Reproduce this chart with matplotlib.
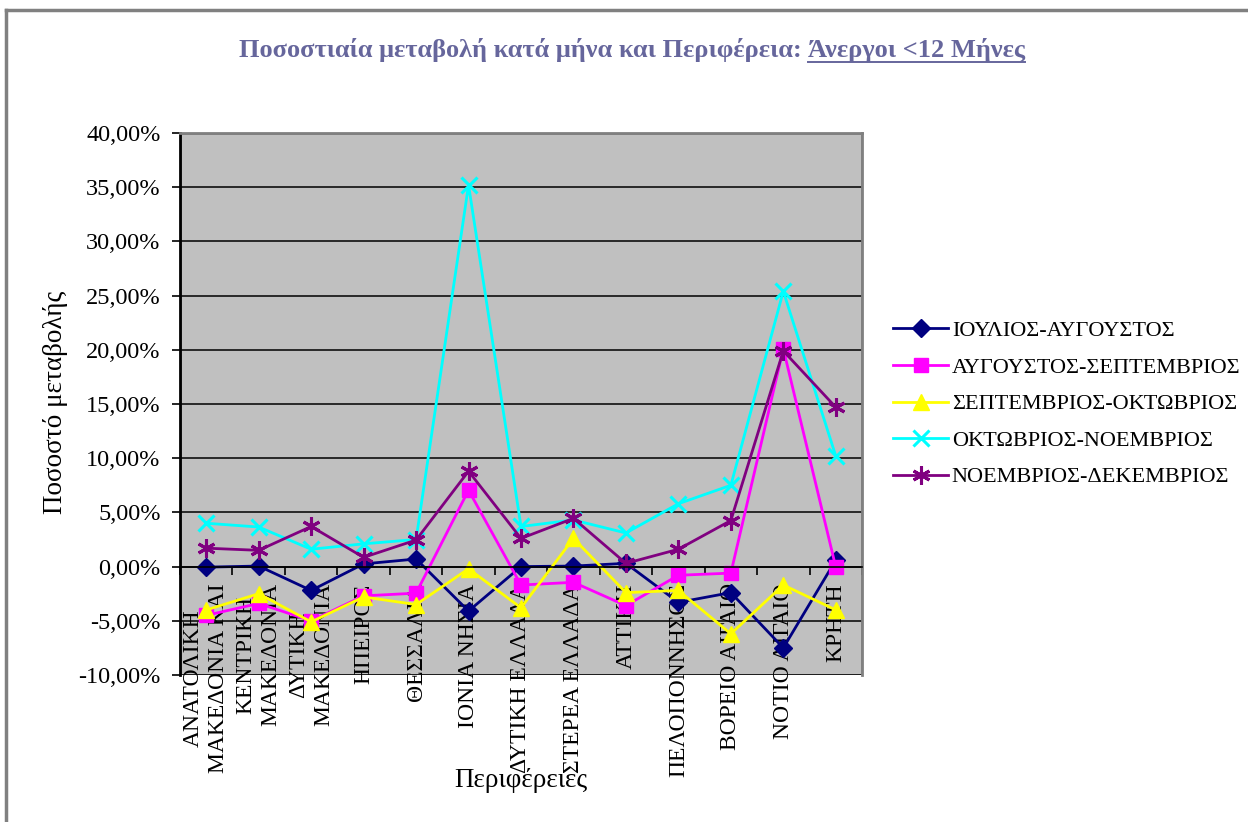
import matplotlib
matplotlib.use("Agg")
import matplotlib.pyplot as plt
from matplotlib.lines import Line2D
from matplotlib.patches import Rectangle
from matplotlib.ticker import FuncFormatter, MultipleLocator, FixedLocator

plt.rcParams['font.family'] = ['Liberation Serif', 'DejaVu Serif']

# regions (x categories)
regions = [
    "ΑΝΑΤΟΛΙΚΗ\nΜΑΚΕΔΟΝΙΑ ΚΑΙ",
    "ΚΕΝΤΡΙΚΗ\nΜΑΚΕΔΟΝΙΑ",
    "ΔΥΤΙΚΗ\nΜΑΚΕΔΟΝΙΑ",
    "ΗΠΕΙΡΟΣ",
    "ΘΕΣΣΑΛΙΑ",
    "ΙΟΝΙΑ ΝΗΣΙΑ",
    "ΔΥΤΙΚΗ ΕΛΛΑΔΑ",
    "ΣΤΕΡΕΑ ΕΛΛΑΔΑ",
    "ΑΤΤΙΚΗ",
    "ΠΕΛΟΠΟΝΝΗΣΟΣ",
    "ΒΟΡΕΙΟ ΑΙΓΑΙΟ",
    "ΝΟΤΙΟ ΑΙΓΑΙΟ",
    "ΚΡΗΤΗ",
]

# percent change per period
jul_aug = [-0.05, 0.05, -2.2, 0.25, 0.7, -4.1, 0.0, 0.05, 0.3, -3.3, -2.4, -7.5, 0.6]
aug_sep = [-4.5, -3.4, -5.0, -2.7, -2.45, 7.05, -1.7, -1.45, -3.6, -0.8, -0.6, 20.1, -0.05]
sep_oct = [-4.0, -2.5, -5.1, -2.8, -3.5, -0.2, -3.8, 2.6, -2.4, -2.2, -6.2, -1.7, -4.0]
oct_nov = [4.0, 3.65, 1.6, 2.1, 2.5, 35.2, 3.7, 4.3, 3.1, 5.8, 7.5, 25.4, 10.2]
nov_dec = [1.7, 1.5, 3.7, 0.85, 2.45, 8.8, 2.6, 4.45, 0.3, 1.6, 4.25, 19.9, 14.7]

series_names = [
    "ΙΟΥΛΙΟΣ-ΑΥΓΟΥΣΤΟΣ",
    "ΑΥΓΟΥΣΤΟΣ-ΣΕΠΤΕΜΒΡΙΟΣ",
    "ΣΕΠΤΕΜΒΡΙΟΣ-ΟΚΤΩΒΡΙΟΣ",
    "ΟΚΤΩΒΡΙΟΣ-ΝΟΕΜΒΡΙΟΣ",
    "ΝΟΕΜΒΡΙΟΣ-ΔΕΚΕΜΒΡΙΟΣ",
]
series_values = [jul_aug, aug_sep, sep_oct, oct_nov, nov_dec]
colors = ["#000080", "#FF00FF", "#FFFF00", "#00FFFF", "#800080"]
markers = ["D", "s", "^", "x", (6, 2, 0)]
msizes = [9, 10, 11, 11, 13]

fig = plt.figure(figsize=(12.48, 8.22), dpi=100)
ax = fig.add_axes([180 / 1248, 1 - 675 / 822, (862 - 180) / 1248, (675 - 133) / 822])
ax.set_facecolor("#C0C0C0")

x = list(range(len(regions)))
for vals, name, c, m, ms in zip(series_values, series_names, colors, markers, msizes):
    ax.plot(x, vals, color=c, lw=2.0, marker=m, ms=ms, mfc=c, mec=c,
            mew=2.2 if m in ("x", (6, 2, 0)) else 1, label=name, clip_on=False)

ax.set_xlim(-0.5, len(regions) - 0.5)
ax.set_ylim(-10, 40)
ax.yaxis.set_major_locator(MultipleLocator(5))
ax.yaxis.set_major_formatter(FuncFormatter(lambda v, p: f"{v:.2f}%".replace(".", ",")))
ax.grid(axis="y", color="black", lw=1.1)
ax.set_axisbelow(True)

# category axis crossing at zero
ax.spines["bottom"].set_position(("data", 0))
ax.spines["bottom"].set_linewidth(1.2)
ax.spines["left"].set_linewidth(2)
ax.spines["top"].set_color("#808080")
ax.spines["right"].set_color("#808080")
ax.spines["top"].set_linewidth(2)
ax.spines["right"].set_linewidth(2)
ax.add_patch(Rectangle((0, 0), 1, 1, transform=ax.transAxes, fill=False,
                       ec="#808080", lw=2, zorder=0.5))

ax.set_xticks(x)
ax.set_xticklabels(regions, rotation=90, va="top", ha="center", fontsize=17, linespacing=1.25)
ax.xaxis.set_minor_locator(FixedLocator([i - 0.5 for i in range(len(regions) + 1)]))
ax.tick_params(axis="x", which="major", length=0, pad=12)
ax.tick_params(axis="x", which="minor", length=6, width=1.2, direction="out")
ax.tick_params(axis="y", labelsize=17.5, length=6, width=1.2, pad=8)

fig.text(521 / 1248, 1 - 780 / 822, "Περιφέρειες", ha="center", va="center", fontsize=19.5)
fig.text(55 / 1248, 1 - 402 / 822, "Ποσοστό μεταβολής", ha="center", va="center",
         rotation=90, fontsize=19.5)

ax.legend(loc="center left", bbox_to_anchor=(884 / 1248, 1 - 404 / 822),
          bbox_transform=fig.transFigure, frameon=False, fontsize=16,
          handlelength=2.5, handletextpad=0.15, labelspacing=0.72, borderaxespad=0)

# title with underlined second part
title_color = "#66669C"
part1 = "Ποσοστιαία μεταβολή κατά μήνα και Περιφέρεια:"
part2 = "Άνεργοι <12 Μήνες"
fig.canvas.draw()
r = fig.canvas.get_renderer()
ty = 1 - 57 / 822
t1 = fig.text(0, ty, part1, ha="left", va="baseline", fontsize=19,
              fontweight="bold", color=title_color)
t2 = fig.text(0, ty, part2, ha="left", va="baseline", fontsize=19,
              fontweight="bold", color=title_color)
w1 = t1.get_window_extent(r).width
w2 = t2.get_window_extent(r).width
gap = 7
x0 = 632 - (w1 + gap + w2) / 2
t1.set_x(x0 / 1248)
t2.set_x((x0 + w1 + gap) / 1248)
uy = ty - 5 / 822
fig.add_artist(Line2D([(x0 + w1 + gap) / 1248, (x0 + w1 + gap + w2) / 1248], [uy, uy],
                      color=title_color, lw=1.4))

# outer chart frame
fig.add_artist(Line2D([6 / 1248, 6 / 1248], [0, 1 - 10 / 822], color="#808080", lw=2.5))
fig.add_artist(Line2D([6 / 1248, 1], [1 - 10 / 822, 1 - 10 / 822], color="#808080", lw=2.5))

fig.savefig("out.png", dpi=100)
